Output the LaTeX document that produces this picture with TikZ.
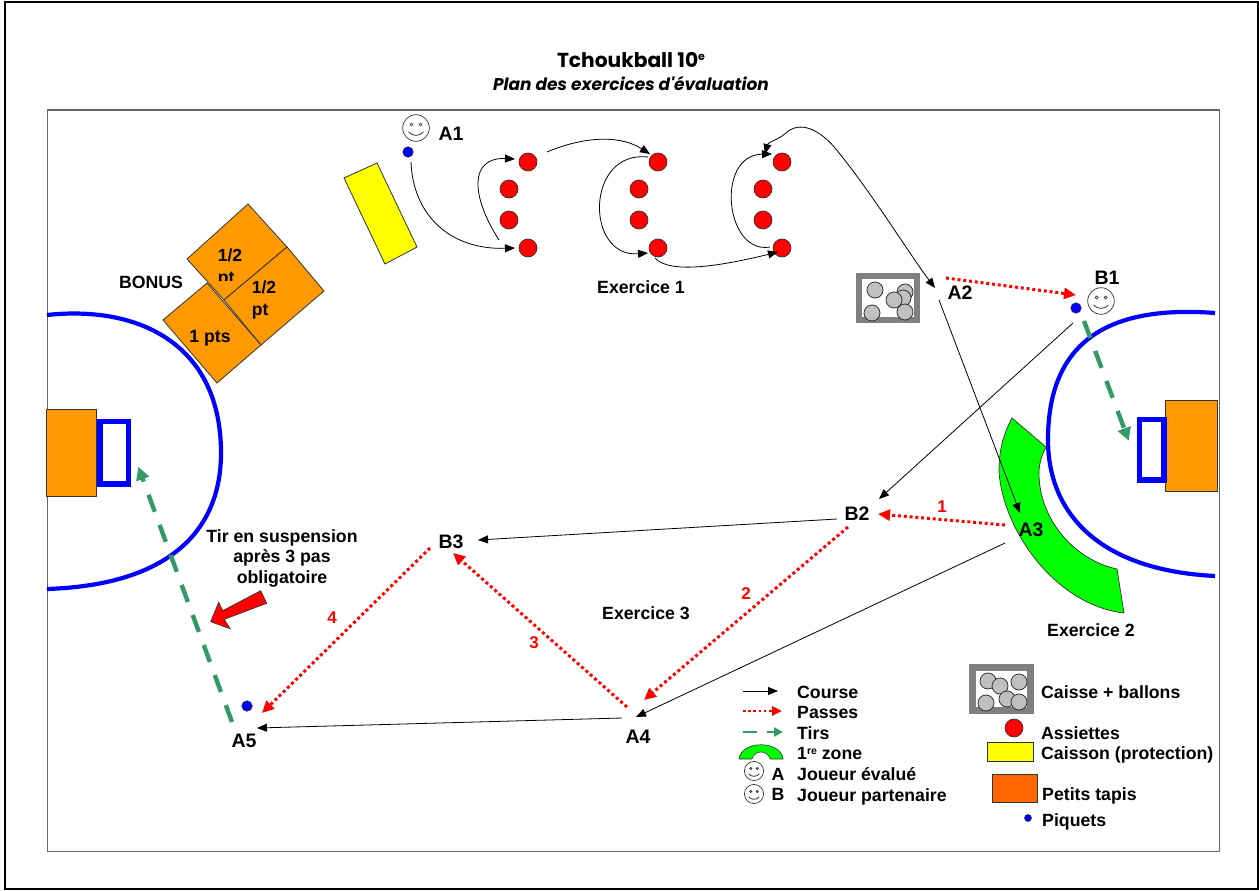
\documentclass[tikz,border=0pt]{standalone}
\usepackage{fontspec}
\setmainfont{Liberation Sans}
\newfontfamily\titlefont{Poppins}
\usetikzlibrary{arrows.meta,calc}
\definecolor{tirgreen}{HTML}{339966}
\definecolor{tapis}{HTML}{FF9900}
\definecolor{tapisleg}{HTML}{FF6600}
\definecolor{ballgray}{HTML}{C0C0C0}
\definecolor{linedark}{HTML}{333333}
\definecolor{fieldline}{HTML}{666666}
\definecolor{pureyellow}{HTML}{FFFF00}
\definecolor{purered}{HTML}{FF0000}
\definecolor{puregreen}{HTML}{00FF00}
\definecolor{pureblue}{HTML}{0000FF}
\tikzset{
  tipc/.tip={Triangle[length=10pt,width=8pt]},
  tipp/.tip={Triangle[length=12pt,width=11pt]},
  tipt/.tip={Triangle[length=13pt,width=13pt]},
  course/.style={draw=black,line width=0.8pt,-tipc},
  passe/.style={draw=purered,line width=3pt,dash pattern=on 3pt off 2.8pt,-tipp},
  tir/.style={draw=tirgreen,line width=4.4pt,dash pattern=on 18pt off 14pt,-tipt},
  lbl/.style={inner sep=0pt,font=\fontsize{17.7}{20}\bfseries\selectfont,text height=12.5pt,text depth=0pt},
  big/.style={lbl,font=\fontsize{19.5}{22}\bfseries\selectfont,text height=14pt},
  num/.style={lbl,text=purered,font=\fontsize{17}{20}\bfseries\selectfont},
  leg/.style={lbl,anchor=west},
  matlbl/.style={inner sep=0pt,align=left,font=\fontsize{17.5}{22}\bfseries\selectfont},
  dotr/.style={circle,draw=linedark,fill=purered,line width=0.7pt,minimum size=18pt,inner sep=0pt},
  piquet/.style={circle,draw=linedark,fill=pureblue,line width=0.6pt,minimum size=10.5pt,inner sep=0pt},
  ball/.style={draw=linedark,fill=ballgray,line width=0.8pt},
  tapisshape/.style={draw=linedark,fill=tapis,line width=0.8pt},
  arcblue/.style={draw=pureblue,line width=4.2pt},
  goalbox/.style={draw=pureblue,line width=5.5pt,inner sep=0pt},
  pics/smiley/.style={code={
    \draw[linedark,line width=0.7pt,fill=white] (0,0) circle (13.3);
    \draw[linedark,line width=0.7pt] (-4.5,-3.5) circle (1.5) (4.5,-3.5) circle (1.5);
    \draw[linedark,line width=0.8pt] (-7.5,4) .. controls (-3,8.5) and (3,8.5) .. (7.5,4);
  }}
}
\begin{document}
\begin{tikzpicture}[x=1pt,y=-1pt]
\useasboundingbox (0,0) rectangle (1259,891);
\fill[white] (0,0) rectangle (1259,891);
% frames
\draw[black,line width=2pt] (4.5,2.5) rectangle (1258,889);
\draw[fieldline,line width=1.3pt] (47.5,110) rectangle (1219.5,851.5);
% title
\node[inner sep=0pt] (title) at (631,60) {\titlefont\bfseries\fontsize{20.2}{22}\selectfont Tchoukball 10\raisebox{6.5pt}{\fontsize{11}{11}\selectfont e}};
\node[inner sep=0pt] (subtitle) at (631,83.5) {\titlefont\itshape\bfseries\fontsize{17}{20}\selectfont Plan des exercices d'évaluation};
% goals
\fill[draw=linedark,fill=tapis,line width=0.8pt] (46,409) rectangle (96.5,496);
\fill[draw=linedark,fill=tapis,line width=0.8pt] (1165,400) rectangle (1217,491);
\node[goalbox,minimum width=28.5pt,minimum height=62.5pt] (gL) at (114.25,452.75) {};
\node[goalbox,minimum width=24.5pt,minimum height=60.5pt] (gR) at (1151.75,449.75) {};
% circle zones
\draw[arcblue] (47,315) .. controls (140,305) and (221,345) .. (221,453)
  .. controls (221,530) and (170,585) .. (47,589);
\draw[arcblue] (1215,313) .. controls (1110,305) and (1048,340) .. (1048,440)
  .. controls (1048,510) and (1095,570) .. (1215,576);
% green zone
\draw[fill=puregreen,draw=linedark,line width=0.7pt] (1012,418) .. controls (1003,435) and (999,450) .. (999,472)
  .. controls (1003,530) and (1055,605) .. (1124,613) -- (1117,569)
  .. controls (1075,560) and (1039,520) .. (1039,473)
  .. controls (1039,463) and (1042,455) .. (1046,447) -- cycle;
% bonus mats
\draw[tapisshape] (248,204) -- (287,247) -- (224,300) -- (187,259) -- cycle;
\begin{scope}
\clip (180,200) rectangle (300,280);
\node[matlbl] (mat1) at (230,268) {1/2\\pt};
\end{scope}
\draw[tapisshape] (287,247) -- (324,291) -- (261,345) -- (224,300) -- cycle;
\node[matlbl] (mat2) at (264,300) {1/2\\pt};
\draw[tapisshape] (207,283) -- (261,345) -- (217,383) -- (163,320) -- cycle;
\node[lbl] (mat3) at (210,336) {1 pts};
\node[lbl] (bonus) at (151,282) {BONUS};
% caisson
\draw[draw=linedark,fill=pureyellow,line width=0.8pt] (377,163) -- (417,247) -- (385,264) -- (344,178) -- cycle;
% caisse exercice
\draw[draw=gray,line width=6pt,fill=white] (858.5,276) rectangle (916.5,320);
\foreach \p in {(875,290),(905,292),(903,298),(894,300),(872,313),(905,312)} \draw[ball] \p circle (8);
% caisse legende
\draw[draw=gray,line width=6.5pt,fill=white] (972.5,667.5) rectangle (1030.5,710.5);
\foreach \p in {(988,681),(1000,686),(1019,682),(986,703),(1007,699),(1019,702)} \draw[ball] \p circle (8);
% plates
\foreach \n/\x/\y in {d11/528/162,d12/509/189,d13/509/220,d14/528/248,
  d21/658/162,d22/639/189,d23/639/220,d24/658/248,
  d31/782/162,d32/763/189,d33/763/220,d34/782/248}
  \node[dotr] (\n) at (\x,\y) {};
% players
\pic at (416,128) {smiley};
\pic at (1101,301) {smiley};
\node[piquet] (pA1) at (408,152) {};
\node[piquet] (pB1) at (1076,308) {};
\node[piquet] (pA5) at (247,706) {};
% labels
\node[big] (A1) at (451,133) {A1};
\node[big] (A2) at (960,292) {A2};
\node[big] (A3) at (1031,529) {A3};
\node[big] (A4) at (638,736) {A4};
\node[big] (A5) at (244,740) {A5};
\node[big] (B1) at (1107,277) {B1};
\node[big] (B2) at (857,513) {B2};
\node[big] (B3) at (451,541) {B3};
\node[lbl] (ex1) at (641,287) {Exercice 1};
\node[lbl] (ex2) at (1091,630) {Exercice 2};
\node[lbl] (ex3) at (646,613) {Exercice 3};
\node[num] (n1) at (942,506) {1};
\node[num] (n2) at (746,593) {2};
\node[num] (n3) at (534,642) {3};
\node[num] (n4) at (332,617) {4};
\node[inner sep=0pt,align=center,font=\fontsize{17.7}{20.5}\bfseries\selectfont] (tirnote) at (282,558) {Tir en suspension\\après 3 pas\\obligatoire};
% block arrow
\draw[draw=linedark,fill=purered,line width=0.7pt] (260.7,590.7) -- (266.7,603.3) -- (224.3,619.3) -- (230,628.7) -- (210.7,621.7) -- (218.7,602.3) -- (222.7,610.7) -- cycle;
% exercise 1 curves
\draw[course] ($(pA1)+(3,10)$) .. controls (413,215) and (450,250) .. ($(d14)+(-13,0)$);
\draw[course] ($(d14)+(-29,-8)$) .. controls (470,195) and (470,157) .. ($(d11)+(-13,-3)$);
\draw[course] ($(d11)+(19,-10)$) .. controls (575,140) and (615,132) .. ($(d21)+(-8,-8)$);
\draw[course] ($(d21)+(-10,-5)$) .. controls (585,150) and (585,258) .. ($(d24)+(-10,5)$);
\draw[course] ($(d24)+(-3,10)$) .. controls (670,275) and (725,265) .. ($(d34)+(-4,4)$);
\draw[course] ($(d34)+(-12,-1)$) .. controls (725,255) and (715,155) .. ($(d31)+(-10,-8)$);
\draw[course,tipc-tipc] ($(d31)+(-17,-8)$) .. controls (768,142) and (778,140) .. (786,133)
  .. controls (800,120) and (820,130) .. (835,148)
  .. controls (870,190) and (910,255) .. ($(A2)+(-25,-4)$);
% runs
\draw[course] ($(A2)+(-21,8)$) -- ($(A3)+(-11,-16)$);
\draw[course] ($(pB1)+(-3,15)$) -- ($(B2)+(22,-14)$);
\draw[course] ($(A3)+(-26,14)$) -- ($(A4)+(-2,-19)$);
\draw[course] ($(B2)+(-20,6)$) -- ($(B3)+(27,-1)$);
\draw[course] ($(A4)+(-16,-18)$) -- ($(A5)+(13,-12)$);
% passes
\draw[passe] ($(A2)+(-14,-14)$) -- ($(pB1)+(0,-13)$);
\draw[passe] ($(A3)+(-26,-4)$) -- ($(B2)+(21,1)$);
\draw[passe] ($(B2)+(-9,14)$) -- ($(A4)+(6,-36)$);
\draw[passe] ($(A4)+(-11,-29)$) -- ($(B3)+(2,12)$);
\draw[passe] ($(B3)+(-21,7)$) -- ($(A5)+(18,-27)$);
% shots
\draw[tir] ($(pB1)+(8,13)$) -- ($(gR)+(-23,-9)$);
\draw[tir] ($(A5)+(-12,-18)$) -- ($(gL)+(24,14)$);
% legend left
\coordinate (lc1) at (743,691); \coordinate (lc2) at (778,691);
\draw[course] (lc1) -- (lc2);
\coordinate (lp1) at (743,711); \coordinate (lp2) at (782,711);
\draw[passe,line width=2.6pt,dash pattern=on 2.6pt off 2.6pt,-{Triangle[length=10pt,width=9pt]}] (lp1) -- (lp2);
\coordinate (lt1) at (743,732); \coordinate (lt2) at (783,732);
\draw[draw=tirgreen,line width=2.6pt,dash pattern=on 14pt off 10pt,-{Triangle[length=9pt,width=9pt]}] (lt1) -- (lt2);
\draw[fill=puregreen,draw=linedark,line width=0.6pt] (739,759) .. controls (741,740) and (781,740) .. (783,759) -- (770,759) .. controls (768,749.7) and (754,749.7) .. (752,759) -- cycle;
\pic[scale=0.72] at (754,771) {smiley};
\pic[scale=0.72] at (754,794) {smiley};
\node[lbl] (legA) at (778,774) {A};
\node[lbl] (legB) at (778,794) {B};
\node[leg] (l1) at (797,692) {Course};
\node[leg] (l2) at (797,712) {Passes};
\node[leg] (l3) at (797,733) {Tirs};
\node[leg] (l4) at (797,753) {1\raisebox{5pt}{\fontsize{10.5}{10}\selectfont re} zone};
\node[leg] (l5) at (797,774) {Joueur évalué};
\node[leg] (l6) at (797,795) {Joueur partenaire};
% legend right
\node[dotr] (ldot) at (1014,728) {};
\draw[draw=linedark,fill=pureyellow,line width=0.8pt] (987,742) rectangle (1033,761);
\draw[draw=linedark,fill=tapisleg,line width=0.8pt] (992,774) rectangle (1037,802);
\node[piquet,minimum size=7pt] (lpq) at (1028,818) {};
\node[leg] (r1) at (1041,692) {Caisse + ballons};
\node[leg] (r2) at (1041,733) {Assiettes};
\node[leg] (r3) at (1041,753) {Caisson (protection)};
\node[leg] (r4) at (1042,794) {Petits tapis};
\node[leg] (r5) at (1042,820) {Piquets};
\end{tikzpicture}
\end{document}
